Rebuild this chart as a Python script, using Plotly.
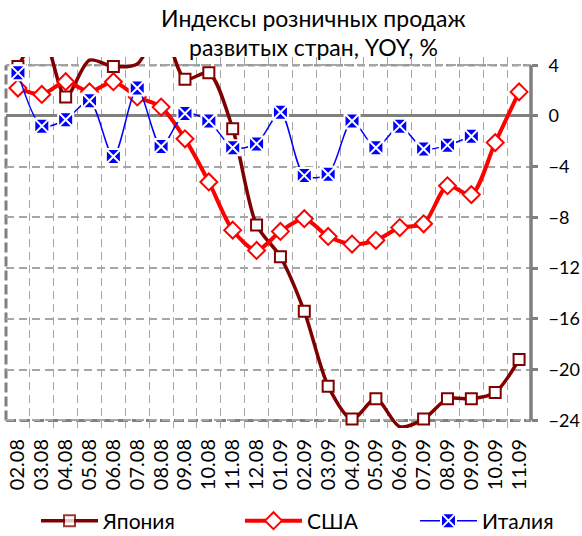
import plotly.graph_objects as go

months = ["02.08", "03.08", "04.08", "05.08", "06.08", "07.08", "08.08", "09.08",
          "10.08", "11.08", "12.08", "01.09", "02.09", "03.09", "04.09", "05.09",
          "06.09", "07.09", "08.09", "09.09", "10.09", "11.09"]

japan = [3.9, 6.5, 1.5, 4.4, 3.9, 4.1, 7.0, 2.9, 3.4, -1.0, -8.6, -11.1,
         -15.4, -21.3, -23.9, -22.3, -24.5, -23.9, -22.3, -22.3, -21.8, -19.2]
usa = [2.2, 1.7, 2.7, 1.9, 2.7, 1.5, 0.7, -1.8, -5.2, -9.0, -10.6, -9.1,
       -8.1, -9.5, -10.1, -9.8, -8.8, -8.5, -5.5, -6.2, -2.1, 1.9]
italy = [3.4, -0.8, -0.3, 1.2, -3.2, 2.2, -2.4, 0.2, -0.4, -2.5, -2.2, 0.3,
         -4.7, -4.6, -0.4, -2.5, -0.8, -2.6, -2.3, -1.6, None, None]

names = ["Япония", "США", "Италия"]
title_lines = ["Индексы розничных продаж", "развитых стран, YOY, %"]

Y_MIN, Y_MAX = -24, 4
FONT = "Lato, 'Open Sans', sans-serif"

W, H = 582, 536
TOP, BOTTOM = 57, 428          # plot-area pixel rows


def vis(vals):
    # markers of points outside the value axis are not drawn (as in the original)
    return [1 if (v is not None and Y_MIN <= v <= Y_MAX) else 0 for v in vals]


def paper_y(py):
    return (BOTTOM - py) / (BOTTOM - TOP)


fig = go.Figure()
fig.add_trace(go.Scatter(
    x=months, y=japan, name=names[0], mode="lines+markers",
    line=dict(color="#800000", width=3.5, shape="spline", smoothing=0.8),
    marker=dict(symbol="square", size=11, color="white", opacity=vis(japan),
                line=dict(color="#800000", width=2)),
    legend="legend"))
fig.add_trace(go.Scatter(
    x=months, y=usa, name=names[1], mode="lines+markers",
    line=dict(color="#FF0000", width=4, shape="spline", smoothing=0.8),
    marker=dict(symbol="diamond", size=13, color="white",
                line=dict(color="#FF0000", width=2)),
    legend="legend2"))
fig.add_trace(go.Scatter(
    x=months, y=italy, name=names[2], mode="lines+markers",
    line=dict(color="#0000FF", width=1.5, shape="spline", smoothing=0.8),
    marker=dict(symbol="square-x", size=15, color="#0000FF",
                line=dict(color="white", width=2)),
    legend="legend3"))

grey = "#808080"
shapes = [
    # hide grid outside the value axis range
    dict(type="rect", xref="paper", yref="y", x0=-0.01, x1=1.01, y0=Y_MAX, y1=4.7,
         fillcolor="white", line=dict(width=0), layer="between"),
    dict(type="rect", xref="paper", yref="y", x0=-0.01, x1=1.01, y0=-24.7, y1=Y_MIN,
         fillcolor="white", line=dict(width=0), layer="between"),
    # plot-area border
    dict(type="line", xref="paper", yref="y", x0=0, x1=1, y0=Y_MAX, y1=Y_MAX,
         line=dict(color="#999999", width=2.5, dash="7px,4px"), layer="between"),
    dict(type="line", xref="paper", yref="y", x0=0, x1=0, y0=Y_MIN, y1=Y_MAX,
         line=dict(color=grey, width=3, dash="10px,4px"), layer="between"),
    dict(type="line", xref="paper", yref="y", x0=0, x1=1, y0=Y_MIN, y1=Y_MIN,
         line=dict(color=grey, width=3, dash="10px,4px"), layer="between"),
    # value axis line (right)
    dict(type="line", xref="paper", yref="y", x0=1, x1=1, y0=Y_MIN, y1=Y_MAX,
         line=dict(color=grey, width=3.5), layer="above"),
]

annotations = [
    dict(text=title_lines[0], xref="paper", yref="paper", x=(313 - 6) / 525,
         y=paper_y(18), xanchor="center", yanchor="middle", showarrow=False,
         font=dict(family=FONT, size=23, color="black")),
    dict(text=title_lines[1], xref="paper", yref="paper", x=(313 - 6) / 525,
         y=paper_y(47), xanchor="center", yanchor="middle", showarrow=False,
         font=dict(family=FONT, size=23, color="black")),
]

fig.update_layout(
    width=W, height=H,
    margin=dict(l=6, r=W - 531, t=TOP, b=H - BOTTOM, pad=0, autoexpand=False),
    paper_bgcolor="white", plot_bgcolor="white",
    font=dict(family=FONT, size=20, color="black"),
    xaxis=dict(type="category", range=[-0.5, 21.5], tickson="boundaries",
               tickmode="linear", dtick=1,
               showgrid=True, gridcolor="#A6A6A6", gridwidth=1, griddash="8px,5px",
               ticks="", tickangle=-90, tickfont=dict(size=20),
               showline=False, zeroline=False, ticklabelstandoff=6),
    yaxis=dict(side="right", range=[-24.6, 4.65], tick0=0, dtick=4,
               showgrid=True, gridcolor="#A6A6A6", gridwidth=1.5, griddash="8px,5px",
               zeroline=True, zerolinecolor=grey, zerolinewidth=3,
               showline=False, ticks="outside", ticklen=6, tickwidth=3,
               tickcolor=grey, tickfont=dict(size=18), ticklabelstandoff=7),
    shapes=shapes,
    annotations=annotations,
    showlegend=True,
)

leg_common = dict(orientation="h", xref="container", yref="container",
                  yanchor="middle", y=1 - 521 / H, bgcolor="rgba(0,0,0,0)",
                  borderwidth=0, itemwidth=57, font=dict(family=FONT, size=21))
fig.update_layout(
    legend=dict(x=(69 - 33) / W, **leg_common),
    legend2=dict(x=(273 - 33) / W, **leg_common),
    legend3=dict(x=(448 - 33) / W, **leg_common),
)

fig.write_html("out.html", config={"displayModeBar": False},
               post_script="document.body.style.margin='0px';")
